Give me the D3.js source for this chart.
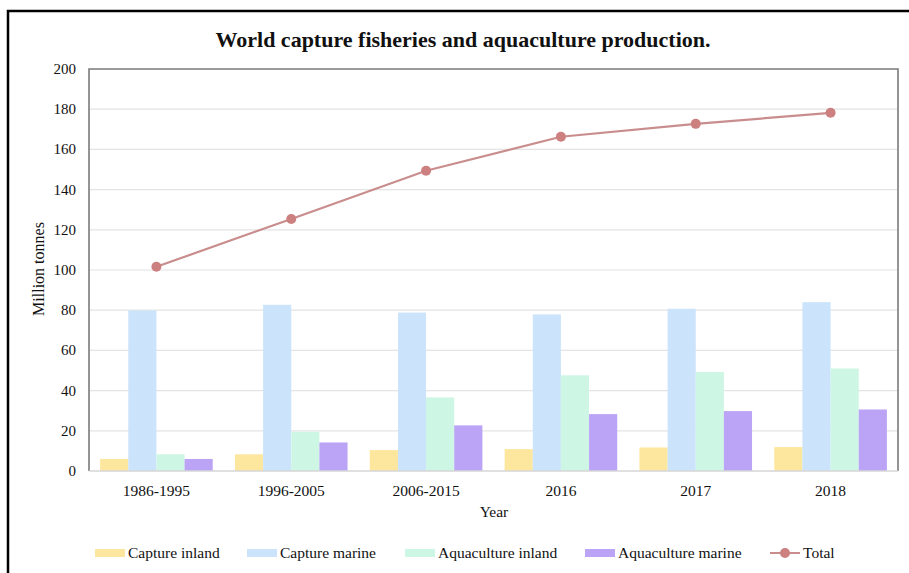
<!DOCTYPE html>
<meta charset="utf-8">
<style>
html,body{ margin:0; background:#fff; }
text{ font-family: "Liberation Serif", "Times New Roman", serif; fill:#111; }
</style>
<script src="https://d3js.org/d3.v7.min.js"></script>
<body>
<script>

var width = 909, height = 573;

// data
var years = ["1986-1995", "1996-2005", "2006-2015", "2016", "2017", "2018"];
var seriesNames = ["Capture inland", "Capture marine", "Aquaculture inland", "Aquaculture marine"];
var captureInland = [6.0, 8.3, 10.4, 10.9, 11.7, 11.9];
var captureMarine = [79.9, 82.7, 78.8, 77.9, 80.7, 84.0];
var aquaInland = [8.3, 19.5, 36.6, 47.6, 49.3, 51.0];
var aquaMarine = [6.0, 14.2, 22.7, 28.3, 29.8, 30.6];
var total = [101.6, 125.4, 149.4, 166.3, 172.7, 178.2];
var yTicks = [0, 20, 40, 60, 80, 100, 120, 140, 160, 180, 200];

var colors = ["#fde69d", "#cbe3fb", "#cdf6e4", "#bba3f5"];
var lineColor = "#c98d8d", dotColor = "#cd8080";

var allSeries = [captureInland, captureMarine, aquaInland, aquaMarine];

var svg = d3.select("body").append("svg")
    .attr("width", width)
    .attr("height", height);

// outer frame of the screenshot
svg.append("rect")
    .attr("x", 8).attr("y", 11)
    .attr("width", 1000).attr("height", 700)
    .attr("fill", "none").attr("stroke", "#000").attr("stroke-width", 2.5);

var pLeft = 89, pRight = 898, pTop = 69, pBottom = 471;

var x = d3.scaleBand().domain(years).range([pLeft, pRight]).paddingInner(0.165).paddingOuter(0.0825);
var x1 = d3.scaleBand().domain(d3.range(4)).range([0, x.bandwidth()]);
var y = d3.scaleLinear().domain([0, 200]).range([pBottom, pTop]);

// grid
svg.append("g").selectAll("line")
    .data(yTicks.filter(function(d){ return d > 0 && d < 200; }))
    .enter().append("line")
    .attr("x1", pLeft).attr("x2", pRight)
    .attr("y1", function(d){ return y(d); })
    .attr("y2", function(d){ return y(d); })
    .attr("stroke", "#e4e4e4").attr("stroke-width", 1.2);

// bars
var groups = svg.append("g").selectAll("g")
    .data(years)
    .enter().append("g")
    .attr("transform", function(d){ return "translate(" + x(d) + ",0)"; });

groups.selectAll("rect")
    .data(function(d, i){ return allSeries.map(function(s, k){ return {k: k, v: s[i]}; }); })
    .enter().append("rect")
    .attr("x", function(d){ return x1(d.k); })
    .attr("width", x1.bandwidth())
    .attr("y", function(d){ return y(d.v); })
    .attr("height", function(d){ return y(0) - y(d.v); })
    .attr("fill", function(d){ return colors[d.k]; });

// frame: left, top, right dark; bottom light
svg.append("path")
    .attr("d", "M" + pLeft + "," + pBottom + "V" + pTop + "H" + pRight + "V" + pBottom)
    .attr("fill", "none").attr("stroke", "#7a7a7a").attr("stroke-width", 1.6);
svg.append("line")
    .attr("x1", pLeft).attr("x2", pRight).attr("y1", pBottom).attr("y2", pBottom)
    .attr("stroke", "#d6d6d6").attr("stroke-width", 1.5);

// total line
var cx = function(i){ return x(years[i]) + x.bandwidth() / 2; };
svg.append("path")
    .datum(total)
    .attr("d", d3.line().x(function(d, i){ return cx(i); }).y(function(d){ return y(d); }))
    .attr("fill", "none").attr("stroke", lineColor).attr("stroke-width", 2.2);
svg.append("g").selectAll("circle")
    .data(total)
    .enter().append("circle")
    .attr("cx", function(d, i){ return cx(i); })
    .attr("cy", function(d){ return y(d); })
    .attr("r", 5)
    .attr("fill", dotColor);

// y axis labels
svg.append("g").selectAll("text")
    .data(yTicks)
    .enter().append("text")
    .attr("x", 76)
    .attr("y", function(d){ return y(d) + 5; })
    .attr("text-anchor", "end")
    .style("font-size", "15px")
    .text(function(d){ return d; });

// x axis labels
svg.append("g").selectAll("text")
    .data(years)
    .enter().append("text")
    .attr("x", function(d){ return x(d) + x.bandwidth() / 2; })
    .attr("y", 496)
    .attr("text-anchor", "middle")
    .style("font-size", "15.5px")
    .text(function(d){ return d; });

svg.append("text")
    .attr("x", 494).attr("y", 517)
    .attr("text-anchor", "middle")
    .style("font-size", "15.5px")
    .text("Year");

svg.append("text")
    .attr("transform", "translate(44,269) rotate(-90)")
    .attr("text-anchor", "middle")
    .style("font-size", "16px")
    .text("Million tonnes");

svg.append("text")
    .attr("x", 463).attr("y", 47)
    .attr("text-anchor", "middle")
    .style("font-size", "22px")
    .style("font-weight", "bold")
    .text("World capture fisheries and aquaculture production.");

// legend
var legendX = [95, 247, 405, 585];
var lg = svg.append("g").selectAll("g")
    .data(seriesNames)
    .enter().append("g")
    .attr("transform", function(d, i){ return "translate(" + legendX[i] + ",553)"; });
lg.append("rect")
    .attr("x", 0).attr("y", -4).attr("width", 30).attr("height", 8)
    .attr("fill", function(d, i){ return colors[i]; });
lg.append("text")
    .attr("x", 33).attr("y", 5)
    .style("font-size", "15.5px")
    .text(function(d){ return d; });

var tl = svg.append("g").attr("transform", "translate(770,553)");
tl.append("line").attr("x1", 0).attr("x2", 30).attr("stroke", lineColor).attr("stroke-width", 2);
tl.append("circle").attr("cx", 15).attr("r", 5).attr("fill", dotColor);
tl.append("text").attr("x", 33).attr("y", 5).style("font-size", "15.5px").text("Total");

</script>
</body>
